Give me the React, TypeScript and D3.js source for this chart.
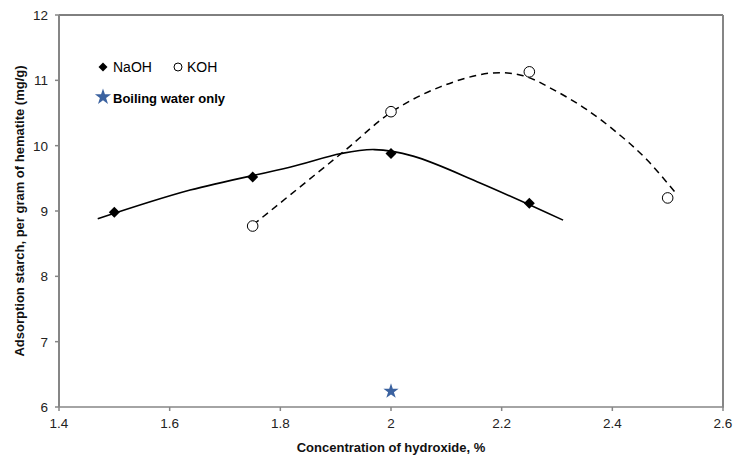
import React from "react";
import * as d3 from "d3";

const W = 737;
const H = 457;

const xTicks = [1.4, 1.6, 1.8, 2, 2.2, 2.4, 2.6];
const yTicks = [6, 7, 8, 9, 10, 11, 12];

const naohX = [1.5, 1.75, 2.0, 2.25];
const naohY = [8.98, 9.52, 9.88, 9.12];
const kohX = [1.75, 2.0, 2.25, 2.5];
const kohY = [8.77, 10.52, 11.13, 9.2];
const waterX = [2.0];
const waterY = [6.24];

// smoothed trend curves
const naohTrendX = [1.47, 1.637, 1.817, 1.91, 1.97, 2.04, 2.161, 2.311];
const naohTrendY = [8.88, 9.32, 9.67, 9.88, 9.94, 9.84, 9.43, 8.86];
const kohTrendX = [1.751, 1.913, 2.002, 2.089, 2.179, 2.239, 2.295, 2.354, 2.414, 2.463, 2.513];
const kohTrendY = [8.79, 9.9, 10.52, 10.9, 11.11, 11.07, 10.85, 10.55, 10.16, 9.78, 9.29];

const FONT = "'Liberation Sans', Arial, sans-serif";

export default function App() {
  const left = 59, right = 723, top = 15, bottom = 407;
  const x = d3.scaleLinear().domain([1.4, 2.6]).range([left, right]);
  const y = d3.scaleLinear().domain([6, 12]).range([bottom, top]);

  const mk = (curve: d3.CurveFactory) =>
    d3
      .line<[number, number]>()
      .x((d) => x(d[0]))
      .y((d) => y(d[1]))
      .curve(curve);

  const naohPath =
    mk(d3.curveCatmullRom.alpha(0.5))(naohTrendX.map((v, i) => [v, naohTrendY[i]]) as [number, number][]) || "";
  const kohPath =
    mk(d3.curveCatmullRom.alpha(0.5))(kohTrendX.map((v, i) => [v, kohTrendY[i]]) as [number, number][]) || "";

  const diamond = (r: number) => `M0,${-r}L${r},0L0,${r}L${-r},0Z`;
  const star = (r: number) => d3.symbol().type(d3.symbolStar).size((r * r) / 0.8908130915)() || "";

  return (
    <svg
      width={W}
      height={H}
      style={{ position: "absolute", left: 0, top: 0, background: "#fff" }}
      fontFamily={FONT}
    >
      <rect x={0} y={0} width={W} height={H} fill="#fff" />
      {/* plot frame */}
      <line x1={left} x2={right} y1={top} y2={top} stroke="#000" strokeWidth={1} />
      <line x1={right} x2={right} y1={top} y2={bottom} stroke="#868686" strokeWidth={2} />
      <line x1={left} x2={right + 1} y1={bottom} y2={bottom} stroke="#868686" strokeWidth={1.5} />
      <line x1={left} x2={left} y1={top} y2={bottom} stroke="#868686" strokeWidth={2} />

      {/* y ticks */}
      {yTicks.map((t) => (
        <g key={"y" + t}>
          <line x1={left - 4} x2={left} y1={y(t)} y2={y(t)} stroke="#868686" strokeWidth={1.5} />
          <text x={48} y={y(t) + 5} textAnchor="end" fontSize={13.5} fill="#222">
            {t}
          </text>
        </g>
      ))}
      {/* x ticks */}
      {xTicks.map((t) => (
        <g key={"x" + t}>
          <line x1={x(t)} x2={x(t)} y1={bottom} y2={bottom + 4} stroke="#868686" strokeWidth={1.5} />
          <text x={x(t)} y={428} textAnchor="middle" fontSize={13.5} fill="#222">
            {t}
          </text>
        </g>
      ))}

      {/* axis titles */}
      <text x={391} y={452} textAnchor="middle" fontSize={13} fontWeight="bold" fill="#111">
        Concentration of hydroxide, %
      </text>
      <text
        transform={`translate(24,${(top + bottom) / 2}) rotate(-90)`}
        textAnchor="middle"
        fontSize={13}
        fontWeight="bold"
        fill="#111"
      >
        Adsorption starch, per gram of hematite (mg/g)
      </text>

      {/* trend lines */}
      <path d={naohPath} fill="none" stroke="#000" strokeWidth={1.6} />
      <path d={kohPath} fill="none" stroke="#000" strokeWidth={1.5} strokeDasharray="7,5" />

      {/* NaOH points */}
      {naohX.map((v, i) => (
        <path key={"n" + i} d={diamond(5.5)} transform={`translate(${x(v)},${y(naohY[i])})`} fill="#000" />
      ))}
      {/* KOH points */}
      {kohX.map((v, i) => (
        <circle key={"k" + i} cx={x(v)} cy={y(kohY[i])} r={5.3} fill="#fff" stroke="#000" strokeWidth={1} />
      ))}
      {/* boiling water */}
      {waterX.map((v, i) => (
        <path key={"w" + i} d={star(8)} transform={`translate(${x(v)},${y(waterY[i])})`} fill="#3b62a0" />
      ))}

      {/* legend */}
      <path d={diamond(4.5)} transform="translate(103,67)" fill="#000" />
      <text x={113} y={72} fontSize={14} fill="#000">NaOH</text>
      <circle cx={178} cy={67} r={4} fill="#fff" stroke="#000" strokeWidth={1} />
      <text x={187} y={72} fontSize={14} fill="#000">KOH</text>
      <path d={star(8.5)} transform="translate(103,97)" fill="#3b62a0" />
      <text x={113} y={103} fontSize={13.5} fontWeight="bold" fill="#000" textLength={112} lengthAdjust="spacingAndGlyphs">
        Boiling water only
      </text>
    </svg>
  );
}
